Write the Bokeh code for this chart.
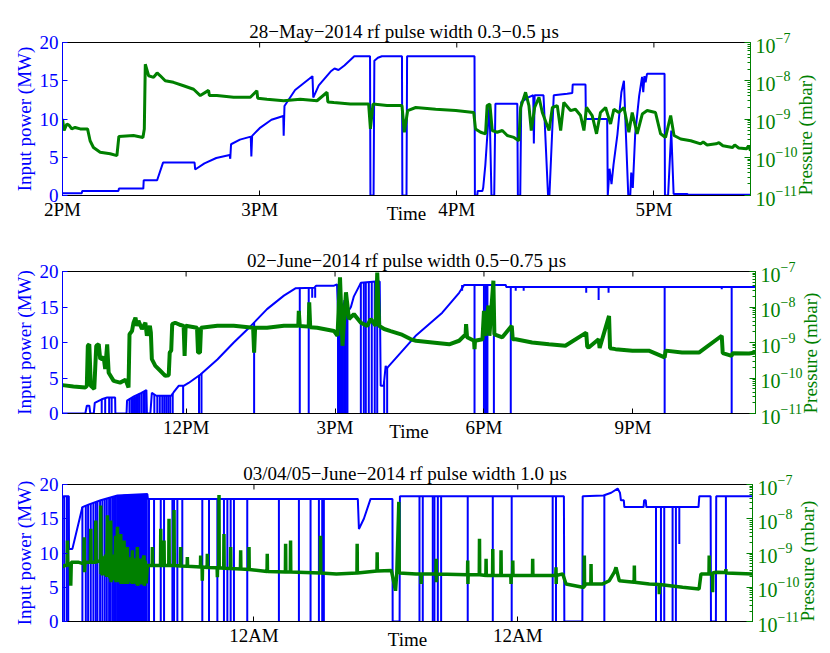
import math
from bokeh.plotting import figure
from bokeh.models import Range1d, LogAxis, LogScale, FixedTicker, Spacer
from bokeh.layouts import column
from bokeh.embed import file_html
from bokeh.resources import INLINE

BLUE = "#0000ff"
GREEN = "#008000"
FONT = "Liberation Serif"

# ---------------- titles / ticks ----------------
titles = ["28\u2212May\u22122014 rf pulse width 0.3\u22120.5  \u00b5s",
          "02\u2212June\u22122014 rf pulse width 0.5\u22120.75  \u00b5s",
          "03/04/05\u2212June\u22122014 rf pulse width 1.0  \u00b5s"]
x1_ticks = [14, 15, 16, 17]
x1_labels = ["2PM", "3PM", "4PM", "5PM"]
x2_ticks = [12, 15, 18, 21]
x2_labels = ["12PM", "3PM", "6PM", "9PM"]
x3_ticks = [24, 48]
x3_labels = ["12AM", "12AM"]
power_ticks = [0, 5, 10, 15, 20]
pressure_ticks = [1e-11, 1e-10, 1e-9, 1e-8, 1e-7]

# ---------------- panel 1 : 28 May ----------------
t1_power = [14.000, 14.098, 14.100, 14.284, 14.286, 14.410, 14.412, 14.480, 14.510, 14.670,
            14.673, 14.720, 14.780, 14.848, 14.851, 14.855, 14.900, 14.955, 14.958, 14.962,
            15.000, 15.060, 15.120, 15.122, 15.126, 15.180, 15.268, 15.272, 15.300, 15.360,
            15.380, 15.400, 15.430, 15.480, 15.560, 15.562, 15.578, 15.582, 15.600, 15.620,
            15.722, 15.724, 15.745, 15.748, 16.090, 16.092, 16.104, 16.106, 16.130, 16.134,
            16.145, 16.154, 16.166, 16.176, 16.190, 16.196, 16.307, 16.310, 16.322, 16.327,
            16.360, 16.388, 16.391, 16.395, 16.440, 16.463, 16.470, 16.492, 16.560, 16.586,
            16.588, 16.653, 16.655, 16.763, 16.766, 16.775, 16.785, 16.795, 16.815, 16.835,
            16.848, 16.858, 16.870, 16.880, 16.885, 16.893, 16.905, 16.925, 16.940, 16.946,
            16.952, 16.958, 16.965, 17.054, 17.056, 17.072, 17.088, 17.100, 17.170, 17.172,
            17.490]
p1_power = [0.3, 0.3, 0.6, 0.6, 0.9, 0.9, 2.0, 2.0, 4.3, 4.3,
            3.4, 4.2, 4.9, 5.3, 4.8, 6.7, 7.3, 7.7, 5.1, 7.8,
            8.8, 9.9, 10.4, 7.8, 11.7, 13.8, 15.6, 12.8, 14.4, 16.2,
            16.6, 16.4, 17.0, 18.2, 18.2, 0.0, 0.0, 17.6, 18.0, 18.2,
            18.2, 0.0, 0.0, 18.2, 18.2, 0.0, 0.0, 0.6, 0.6, 1.0,
            4.0, 7.5, 12.0, 0.0, 0.0, 12.0, 12.0, 0.0, 0.0, 12.2,
            12.8, 13.1, 6.8, 13.1, 13.1, 0.0, 0.0, 13.1, 13.3, 13.4,
            14.5, 14.5, 10.0, 10.0, 0.0, 3.5, 1.5, 4.0, 8.0, 13.5,
            15.0, 8.0, 0.0, 0.0, 3.0, 1.0, 8.0, 13.0, 15.5, 13.5,
            15.6, 14.8, 15.9, 15.9, 0.0, 0.0, 8.5, 0.2, 0.2, 0.1,
            0.1]
trip1_t = []
trip1_lo = []
trip1_hi = []
t1_press = [14.000, 14.008, 14.022, 14.034, 14.047, 14.064, 14.090, 14.127, 14.140, 14.157,
            14.191, 14.242, 14.276, 14.286, 14.360, 14.408, 14.415, 14.420, 14.437, 14.462,
            14.480, 14.496, 14.521, 14.563, 14.614, 14.665, 14.699, 14.741, 14.745, 14.783,
            14.868, 14.953, 14.986, 14.990, 15.037, 15.122, 15.206, 15.291, 15.342, 15.346,
            15.376, 15.460, 15.553, 15.562, 15.575, 15.646, 15.722, 15.734, 15.751, 15.792,
            15.893, 15.995, 16.086, 16.095, 16.121, 16.146, 16.154, 16.168, 16.180, 16.205,
            16.231, 16.256, 16.290, 16.315, 16.324, 16.349, 16.366, 16.378, 16.395, 16.417,
            16.434, 16.468, 16.485, 16.510, 16.527, 16.543, 16.577, 16.602, 16.628, 16.645,
            16.658, 16.687, 16.709, 16.729, 16.755, 16.780, 16.797, 16.822, 16.848, 16.873,
            16.890, 16.915, 16.941, 16.966, 17.008, 17.034, 17.059, 17.085, 17.102, 17.136,
            17.187, 17.237, 17.250, 17.270, 17.315, 17.330, 17.350, 17.399, 17.410, 17.430,
            17.470, 17.480, 17.490]
p1_press = [1.0e-9, 5.0e-10, 7.4e-10, 6.8e-10, 5.5e-10, 6.0e-10, 5.5e-10, 5.5e-10, 2.7e-10, 1.8e-10,
            1.35e-10, 1.23e-10, 1.1e-10, 3.5e-10, 3.7e-10, 3.3e-10, 5.5e-10, 2.7e-8, 1.35e-8, 1.23e-8,
            1.6e-8, 1.35e-8, 1.0e-8, 9.1e-9, 7.4e-9, 6.0e-9, 4.1e-9, 5.6e-9, 4.1e-9, 4.1e-9,
            3.7e-9, 3.7e-9, 5.5e-9, 3.5e-9, 3.3e-9, 3.0e-9, 3.3e-9, 3.0e-9, 5.0e-9, 2.8e-9,
            2.7e-9, 2.45e-9, 2.45e-9, 5.5e-10, 2.45e-9, 2.24e-9, 2.24e-9, 4.5e-10, 1.66e-9, 2.0e-9,
            1.8e-9, 1.66e-9, 1.48e-9, 5.5e-10, 4.5e-10, 4.1e-10, 2.24e-9, 2.45e-9, 5.0e-10, 4.5e-10,
            5.0e-10, 3.7e-10, 3.3e-10, 2.7e-10, 2.0e-9, 5.0e-9, 2.24e-9, 5.0e-10, 2.0e-9, 3.7e-9,
            1.48e-9, 5.0e-10, 2.0e-9, 2.24e-9, 5.0e-10, 2.7e-9, 1.66e-9, 1.8e-9, 1.23e-9, 5.0e-10,
            2.0e-9, 1.23e-9, 4.1e-10, 1.48e-9, 2.0e-9, 7.4e-10, 1.8e-9, 1.48e-9, 2.0e-9, 4.5e-10,
            1.48e-9, 4.1e-10, 1.35e-9, 1.66e-9, 1.48e-9, 4.1e-10, 3.3e-10, 1.23e-9, 3.7e-10, 3.0e-10,
            2.7e-10, 2.24e-10, 2.5e-10, 2.1e-10, 2.24e-10, 2.4e-10, 2.0e-10, 1.8e-10, 2.1e-10, 1.74e-10,
            1.66e-10, 2.0e-10, 1.48e-10]

# ---------------- panel 2 : 02 June ----------------
t2_power = [9.51, 9.97, 10.00, 10.05, 10.07, 10.14, 10.16, 10.30, 10.41, 10.57,
            10.575, 10.80, 10.81, 10.95, 11.10, 11.20, 11.21, 11.28, 11.31, 11.40,
            11.70, 11.75, 11.85, 11.95, 12.05, 12.29, 12.63, 12.96, 13.30, 13.63,
            13.97, 14.21, 14.58, 14.62, 14.98, 15.04, 15.07, 15.10, 15.14, 15.20,
            15.25, 15.32, 15.38, 15.52, 15.82, 15.90, 15.92, 15.98, 16.02, 16.04,
            16.06, 16.62, 17.16, 17.50, 17.60, 18.44, 18.45, 23.47]
p2_power = [0.0, 0.0, 1.1, 1.1, 0.0, 0.0, 1.5, 2.0, 2.25, 2.25,
            0.0, 0.0, 1.8, 2.4, 2.9, 3.3, 0.0, 0.0, 2.9, 2.5,
            2.5, 3.0, 3.9, 3.9, 4.3, 5.5, 7.6, 10.0, 12.3, 14.7,
            16.6, 17.65, 17.7, 18.0, 18.0, 18.2, 12.0, 17.0, 14.5, 16.0,
            14.2, 15.0, 16.5, 18.4, 18.6, 18.6, 3.9, 3.9, 6.7, 6.3,
            6.5, 10.9, 14.2, 17.0, 18.1, 18.1, 17.8, 17.8]
trip2_t = [10.30, 10.37, 10.45, 10.50, 10.86, 10.90, 10.93, 10.97, 11.00, 11.03,
           11.06, 11.10, 11.14, 11.17, 11.36, 11.42, 11.47, 11.52, 11.56, 11.60,
           11.64, 11.68, 11.73, 11.94, 12.26, 12.31, 13.37, 14.29, 14.47, 14.54,
           14.60, 15.06, 15.09, 15.11, 15.13, 15.16, 15.19, 15.22, 15.25, 15.52,
           15.58, 15.62, 15.68, 15.74, 15.80, 15.85, 15.99, 16.05, 17.56, 17.81,
           18.00, 18.03, 18.05, 18.07, 18.20, 18.54, 18.64, 18.80, 20.06, 20.31,
           20.51, 21.64, 22.79, 22.99]
trip2_lo = [0, 0, 0, 0, 0, 0, 0, 0, 0, 0,
            0, 0, 0, 0, 0, 0, 0, 0, 0, 0,
            0, 0, 0, 0, 0, 0, 0, 0, 0, 16.3,
            16.3, 0, 0, 0, 0, 0, 0, 0, 0, 0,
            0, 0, 0, 0, 0, 0, 0, 0, 17.3, 0,
            0, 0, 0, 0, 0, 0, 17.3, 17.3, 17.0, 16.0,
            17.0, 0, 17.5, 0]
trip2_hi = [2.0, 2.1, 2.2, 2.2, 2.0, 2.2, 2.3, 2.4, 2.6, 2.7,
            2.8, 2.9, 3.0, 3.2, 2.6, 2.5, 2.5, 2.5, 2.5, 2.5,
            2.5, 2.5, 2.8, 3.9, 5.3, 5.6, 12.8, 17.7, 17.7, 17.7,
            17.7, 17.0, 16.0, 15.0, 15.5, 15.0, 16.0, 15.0, 14.5, 18.4,
            18.5, 18.5, 18.5, 18.6, 18.6, 18.6, 4.5, 6.5, 18.1, 18.1,
            18.1, 18.1, 18.1, 18.1, 18.1, 17.8, 17.8, 17.8, 17.8, 17.8,
            17.8, 17.8, 17.8, 17.8]
t2_press = [9.51, 9.73, 9.97, 10.00, 10.02, 10.05, 10.08, 10.15, 10.19, 10.24,
            10.27, 10.34, 10.37, 10.41, 10.44, 10.54, 10.67, 10.78, 10.84, 10.86,
            10.91, 10.94, 10.98, 11.01, 11.04, 11.11, 11.18, 11.21, 11.27, 11.29,
            11.31, 11.38, 11.48, 11.58, 11.65, 11.67, 11.70, 11.72, 11.78, 11.89,
            11.95, 11.97, 11.99, 12.22, 12.24, 12.28, 12.30, 12.63, 12.96, 13.35,
            13.37, 13.39, 13.63, 13.97, 14.26, 14.27, 14.29, 14.47, 14.48, 14.50,
            14.64, 14.98, 15.05, 15.10, 15.15, 15.22, 15.28, 15.38, 15.52, 15.65,
            15.72, 15.82, 15.85, 15.89, 15.99, 16.12, 16.33, 16.53, 16.63, 16.96,
            17.30, 17.50, 17.63, 17.64, 17.66, 17.80, 17.81, 17.82, 17.97, 18.00,
            18.02, 18.09, 18.11, 18.19, 18.21, 18.37, 18.56, 18.58, 18.64, 18.97,
            19.31, 19.64, 20.06, 20.08, 20.11, 20.31, 20.33, 20.52, 20.54, 20.65,
            20.99, 21.32, 21.64, 21.66, 21.99, 22.33, 22.79, 22.81, 22.99, 23.01,
            23.34, 23.47]
p2_press = [6.3e-11, 5.8e-11, 5.4e-11, 6.0e-11, 8.1e-10, 8.9e-10, 6.0e-11, 4.9e-11, 8.1e-10, 8.9e-10,
            3.4e-10, 3.8e-10, 1.8e-10, 8.9e-10, 1.4e-10, 8.3e-11, 7.4e-11, 8.9e-11, 5.4e-11, 1.7e-9,
            2.1e-9, 3.6e-9, 5.0e-9, 2.95e-9, 4.1e-9, 2.4e-9, 3.6e-9, 1.55e-9, 2.95e-9, 1.9e-9,
            3.4e-10, 2.2e-10, 1.6e-10, 1.15e-10, 1.2e-10, 5.2e-10, 5.9e-10, 3.3e-9, 3.6e-9, 3.1e-9,
            2.95e-9, 4.2e-10, 2.95e-9, 2.6e-9, 5.2e-10, 5.2e-10, 2.6e-9, 2.95e-9, 2.95e-9, 2.6e-9,
            5.2e-10, 2.6e-9, 2.6e-9, 2.95e-9, 2.95e-9, 7.8e-9, 2.9e-9, 2.8e-9, 1.35e-8, 2.7e-9,
            2.6e-9, 2.1e-9, 1.55e-9, 6.8e-8, 8.1e-10, 2.6e-8, 4.6e-9, 6.3e-9, 3.6e-9, 2.95e-9,
            4.6e-9, 2.95e-9, 9.3e-8, 2.95e-9, 2.4e-9, 2.1e-9, 1.7e-9, 1.23e-9, 1.12e-9, 1.0e-9,
            8.9e-10, 1.12e-9, 1.7e-9, 3.3e-9, 1.4e-9, 1.12e-9, 6.5e-10, 1.12e-9, 1.23e-9, 7.8e-9,
            1.55e-9, 1.1e-8, 1.55e-9, 5.5e-8, 1.7e-9, 1.4e-9, 2.95e-9, 1.23e-9, 1.23e-9, 1.0e-9,
            8.9e-10, 8.1e-10, 1.9e-9, 7.6e-10, 7.2e-10, 1.23e-9, 7.0e-10, 5.6e-9, 6.9e-10, 6.5e-10,
            5.9e-10, 5.9e-10, 3.8e-10, 5.9e-10, 5.2e-10, 5.2e-10, 1.55e-9, 5.0e-10, 4.2e-10, 5.0e-10,
            4.9e-10, 5.2e-10]

# ---------------- panel 3 : 03/04/05 June (hours since 3 June 00:00) ----------------
t3_power = [6.58, 6.70, 7.15, 7.17, 7.48, 8.39, 9.00, 10.06, 11.58, 14.30,
            14.35, 33.45, 33.55, 34.00, 34.61, 36.60, 36.62, 37.25, 37.28, 52.20,
            52.24, 53.88, 53.91, 55.80, 56.50, 57.09, 57.30, 57.39, 57.65, 57.70,
            59.45, 59.50, 59.65, 59.70, 64.45, 64.52, 65.55, 65.58, 66.03, 66.06,
            69.36]
p3_power = [18.0, 18.3, 18.3, 10.6, 10.6, 16.7, 17.1, 17.7, 18.4, 18.6,
            17.9, 17.9, 13.5, 15.0, 17.9, 17.9, 0.0, 0.0, 18.3, 18.3,
            0.0, 0.0, 18.3, 18.4, 18.8, 19.4, 18.8, 17.7, 17.7, 16.7,
            16.7, 17.7, 17.7, 16.7, 16.7, 18.3, 18.3, 0.0, 0.0, 18.3,
            18.3]
trip3_t = [6.73, 6.97, 7.10, 8.39, 8.70, 8.91, 9.15, 9.39, 9.61, 9.76,
           10.00, 10.21, 10.42, 10.61, 10.82, 10.97, 11.15, 11.27, 11.42, 11.55,
           11.65, 11.75, 11.85, 11.95, 12.05, 12.15, 12.25, 12.35, 12.45, 12.55,
           12.65, 12.75, 12.85, 12.95, 13.05, 13.15, 13.25, 13.35, 13.45, 13.55,
           13.65, 13.75, 13.85, 13.95, 14.05, 14.15, 14.25, 14.45, 14.91, 15.52,
           15.82, 16.58, 16.73, 17.03, 17.48, 19.30, 19.91, 20.67, 21.27, 21.58,
           21.88, 22.18, 23.39, 26.27, 28.09, 29.15, 29.91, 30.21, 30.36, 39.06,
           39.36, 40.27, 40.42, 40.73, 41.03, 43.45, 45.73, 47.45, 51.18, 51.48,
           55.88, 60.58, 61.03, 61.33, 62.09, 62.39, 62.70, 66.94]
trip3_lo = [0] * 86 + [11.3, 0]
trip3_hi = [18.3, 18.3, 18.3, 16.7, 17.0, 17.0, 17.2, 17.3, 17.4, 17.5,
            17.6, 17.8, 17.9, 18.0, 18.1, 18.1, 18.2, 18.3, 18.3, 18.4,
            18.4, 18.4, 18.4, 18.4, 18.4, 18.5, 18.5, 18.5, 18.5, 18.5,
            18.5, 18.5, 18.5, 18.5, 18.5, 18.5, 18.6, 18.6, 18.6, 18.6,
            18.6, 18.6, 18.6, 18.6, 18.6, 18.6, 18.6, 17.9, 17.9, 17.9,
            17.9, 17.9, 17.9, 17.9, 17.9, 17.9, 17.9, 17.9, 17.9, 17.9,
            17.9, 17.9, 17.9, 17.9, 17.9, 17.9, 17.9, 17.9, 17.9, 18.3,
            18.3, 18.3, 18.3, 18.3, 18.3, 18.3, 18.3, 18.3, 18.3, 18.3,
            18.4, 16.7, 16.7, 16.7, 16.7, 16.7, 16.7, 18.3]
t3_press = [6.58, 6.73, 7.00, 7.03, 7.06, 7.30, 7.33, 7.38, 8.00, 8.52,
            8.55, 8.58, 8.62, 9.12, 9.15, 9.18, 9.58, 9.61, 9.64, 10.03,
            10.06, 10.09, 10.12, 10.20, 10.30, 10.40, 10.50, 10.60, 10.67, 10.72,
            10.80, 10.90, 10.97, 11.00, 11.08, 11.15, 11.25, 11.33, 11.42, 11.45,
            11.52, 11.58, 11.61, 11.70, 11.78, 11.88, 11.91, 12.00, 12.08, 12.18,
            12.21, 12.30, 12.38, 12.48, 12.51, 12.60, 12.70, 12.80, 12.88, 12.94,
            12.97, 13.06, 13.15, 13.25, 13.33, 13.39, 13.42, 13.52, 13.60, 13.70,
            13.80, 13.90, 14.00, 14.03, 14.12, 14.20, 14.30, 14.74, 14.76, 14.78,
            15.50, 15.52, 15.54, 15.80, 15.82, 15.84, 16.25, 16.27, 16.29, 16.71,
            16.73, 16.75, 17.31, 17.33, 17.35, 17.92, 17.94, 17.96, 19.13, 19.15,
            19.17, 19.28, 19.30, 19.32, 19.74, 19.76, 19.78, 20.65, 20.67, 20.69,
            20.80, 20.82, 20.84, 21.25, 21.27, 21.29, 21.86, 21.88, 21.90, 22.77,
            22.79, 22.81, 23.53, 23.55, 23.57, 25.19, 25.21, 25.23, 26.86, 26.88,
            26.90, 27.31, 27.33, 27.35, 30.04, 30.06, 30.08, 31.50, 33.37, 33.39,
            33.41, 35.19, 35.21, 35.23, 36.50, 36.88, 37.00, 37.18, 37.22, 38.76,
            39.19, 39.21, 39.23, 40.56, 40.58, 40.60, 40.62, 43.43, 43.45, 43.47,
            43.49, 44.50, 44.52, 44.54, 45.10, 45.12, 45.14, 45.71, 45.73, 45.75,
            46.46, 46.48, 46.50, 47.37, 47.39, 47.41, 47.53, 47.55, 47.57, 49.34,
            49.36, 49.38, 51.46, 51.48, 51.50, 51.52, 52.09, 52.39, 53.91, 54.04,
            54.06, 54.08, 54.21, 54.65, 54.67, 54.69, 55.73, 56.33, 56.79, 56.94,
            57.24, 58.59, 58.61, 58.63, 59.97, 60.86, 60.88, 60.90, 63.00, 64.50,
            64.67, 65.40, 65.42, 65.44, 65.71, 65.73, 65.75, 66.03, 66.92, 66.94,
            66.96, 69.36]
p3_press = [3.8e-10, 4.3e-10, 4.3e-10, 2.3e-9, 4.3e-10, 4.8e-10, 1.1e-10, 5.4e-10, 5.4e-10, 4.8e-10,
            2.9e-9, 2.75e-10, 5.4e-10, 5.4e-10, 5.1e-9, 5.4e-10, 5.4e-10, 8.9e-9, 5.4e-10, 6.0e-10,
            2.45e-8, 2.45e-10, 6.0e-10, 2.2e-10, 8.0e-10, 2.2e-10, 9.0e-10, 2.0e-10, 1.26e-8, 2.0e-10,
            8.0e-10, 1.8e-10, 8.9e-9, 1.4e-10, 8.0e-10, 1.8e-10, 9.0e-10, 1.6e-10, 3.2e-9, 1.4e-10,
            8.5e-10, 5.8e-9, 1.4e-10, 8.0e-10, 1.5e-10, 3.6e-9, 1.25e-10, 8.0e-10, 1.4e-10, 2.3e-9,
            1.25e-10, 8.0e-10, 1.4e-10, 1.5e-9, 1.25e-10, 7.5e-10, 1.4e-10, 7.5e-10, 1.3e-10, 1.2e-9,
            1.25e-10, 7.0e-10, 1.3e-10, 7.0e-10, 1.2e-10, 1.5e-9, 1.1e-10, 7.0e-10, 1.2e-10, 6.5e-10,
            1.2e-10, 6.5e-10, 8.5e-10, 1.1e-10, 6.0e-10, 1.3e-10, 4.3e-10, 4.3e-10, 1.5e-9, 4.3e-10,
            4.3e-10, 5.1e-9, 4.3e-10, 4.3e-10, 2.3e-9, 4.3e-10, 4.3e-10, 1.0e-8, 4.3e-10, 4.3e-10,
            1.8e-8, 4.3e-10, 4.2e-10, 1.5e-9, 4.2e-10, 4.1e-10, 7.6e-10, 4.1e-10, 3.9e-10, 8.5e-10,
            3.9e-10, 3.9e-10, 1.55e-10, 3.9e-10, 3.8e-10, 9.5e-10, 3.8e-10, 3.7e-10, 1.95e-10, 3.7e-10,
            3.7e-10, 4.9e-8, 3.7e-10, 3.6e-10, 3.6e-9, 3.6e-10, 3.5e-10, 1.5e-9, 3.5e-10, 3.4e-10,
            1.2e-9, 3.4e-10, 3.3e-10, 1.5e-9, 3.3e-10, 2.9e-10, 9.5e-10, 2.9e-10, 2.8e-10, 1.85e-9,
            2.8e-10, 2.8e-10, 2.3e-9, 2.8e-10, 2.6e-10, 3.2e-9, 2.6e-10, 2.45e-10, 2.6e-10, 1.85e-9,
            2.6e-10, 3.0e-10, 1.05e-9, 3.0e-10, 3.1e-10, 7.9e-11, 2.8e-10, 3.1e-8, 2.6e-10, 2.45e-10,
            2.45e-10, 1.25e-10, 2.45e-10, 2.45e-10, 6.8e-10, 1.4e-10, 2.45e-10, 2.3e-10, 6.0e-10, 1.25e-10,
            2.3e-10, 2.3e-10, 2.6e-9, 2.3e-10, 2.2e-10, 6.8e-10, 2.2e-10, 2.2e-10, 1.3e-9, 2.2e-10,
            2.2e-10, 1.2e-9, 2.2e-10, 2.2e-10, 1.25e-10, 2.2e-10, 2.2e-10, 6.0e-10, 2.2e-10, 2.2e-10,
            6.8e-10, 2.2e-10, 2.2e-10, 3.8e-10, 1.25e-10, 2.2e-10, 2.45e-10, 1.25e-10, 1.0e-10, 1.0e-10,
            8.5e-10, 1.1e-10, 1.25e-10, 1.25e-10, 4.8e-10, 1.25e-10, 1.25e-10, 1.55e-10, 2.75e-10, 3.8e-10,
            1.55e-10, 1.4e-10, 4.3e-10, 1.4e-10, 1.25e-10, 1.2e-10, 6.3e-11, 1.2e-10, 1.0e-10, 8.9e-11,
            2.45e-10, 2.45e-10, 8.5e-10, 2.45e-10, 2.45e-10, 7.1e-11, 2.6e-10, 2.75e-10, 2.7e-10, 3.4e-10,
            2.6e-10, 2.45e-10]


def make_panel(title, xr, xticks, xlabels, fw, fh, b_top, b_bot, b_right,
               tp, pp, trt, trlo, trhi, tg, pg, green_w):
    p = figure(title=title, x_range=Range1d(*xr), y_range=Range1d(0, 20),
               frame_width=fw, frame_height=fh,
               min_border_left=62, min_border_right=b_right,
               min_border_top=b_top, min_border_bottom=b_bot,
               output_backend="svg", toolbar_location=None)
    p.extra_y_ranges = {"pr": Range1d(1e-11, 1e-7)}
    p.extra_y_scales = {"pr": LogScale()}
    p.grid.visible = False
    p.outline_line_color = "black"
    p.outline_line_width = 1
    p.background_fill_color = "white"
    p.border_fill_color = "white"

    p.title.align = "center"
    p.title.text_font = FONT
    p.title.text_font_size = "19px"
    p.title.text_font_style = "normal"
    p.title.text_color = "black"
    p.title.standoff = 1

    xa = p.xaxis[0]
    xa.ticker = FixedTicker(ticks=xticks)
    xa.major_label_overrides = dict(zip(xticks, xlabels))
    xa.major_tick_in = 5
    xa.major_tick_out = 0
    xa.minor_tick_line_color = None
    xa.major_label_standoff = 3
    xa.major_label_text_font = FONT
    xa.major_label_text_font_size = "19px"
    xa.major_label_text_color = "black"
    xa.axis_label = "Time"
    xa.axis_label_text_font = FONT
    xa.axis_label_text_font_size = "19px"
    xa.axis_label_text_font_style = "normal"
    xa.axis_label_text_color = "black"
    xa.axis_label_standoff = -20
    xa.axis_line_color = "black"

    ya = p.yaxis[0]
    ya.ticker = FixedTicker(ticks=power_ticks)
    ya.major_tick_in = 5
    ya.major_tick_out = 0
    ya.minor_tick_line_color = None
    ya.major_tick_line_color = BLUE
    ya.axis_line_color = BLUE
    ya.major_label_standoff = 4
    ya.major_label_text_font = FONT
    ya.major_label_text_font_size = "19px"
    ya.major_label_text_color = BLUE
    ya.axis_label = "Input power (MW)"
    ya.axis_label_text_font = FONT
    ya.axis_label_text_font_size = "19px"
    ya.axis_label_text_font_style = "normal"
    ya.axis_label_text_color = BLUE
    ya.axis_label_standoff = 2

    minor = [m * d for d in pressure_ticks[:-1] for m in range(2, 10)]
    ra = LogAxis(y_range_name="pr", ticker=FixedTicker(ticks=pressure_ticks, minor_ticks=minor))
    ra.major_tick_in = 6
    ra.major_tick_out = 0
    ra.minor_tick_in = 3
    ra.minor_tick_out = 0
    ra.major_tick_line_color = GREEN
    ra.minor_tick_line_color = GREEN
    ra.axis_line_color = GREEN
    ra.major_label_standoff = 5
    ra.major_label_text_font = FONT
    ra.major_label_text_font_size = "20px"
    ra.major_label_text_color = GREEN
    ra.axis_label = "Pressure (mbar)"
    ra.axis_label_text_font = FONT
    ra.axis_label_text_font_size = "19px"
    ra.axis_label_text_font_style = "normal"
    ra.axis_label_text_color = GREEN
    ra.axis_label_standoff = 5
    try:
        ra.axis_label_orientation = math.pi / 2
    except Exception:
        pass
    try:
        ra.axis_label_align = "start"
    except Exception:
        pass
    p.add_layout(ra, "right")

    # tick marks along the top edge of the box (MATLAB style)
    tick_len = 5 * 20 / fh
    p.segment(x0=xticks, y0=[20] * len(xticks), x1=xticks, y1=[20 - tick_len] * len(xticks),
              line_color="black", line_width=1)

    p.line(tp, pp, line_color=BLUE, line_width=2)
    if trt:
        p.segment(x0=trt, y0=trlo, x1=trt, y1=trhi, line_color=BLUE, line_width=2)
    p.line(tg, pg, line_color=GREEN, line_width=green_w, y_range_name="pr")
    return p


p1 = make_panel(titles[0], (14.0, 17.49), x1_ticks, x1_labels, 688, 153, 25, 51, 76,
                t1_power, p1_power, trip1_t, trip1_lo, trip1_hi, t1_press, p1_press, 3)
p2 = make_panel(titles[1], (9.51, 23.47), x2_ticks, x2_labels, 693, 142, 25, 46, 71,
                t2_power, p2_power, trip2_t, trip2_lo, trip2_hi, t2_press, p2_press, 4)
p3 = make_panel(titles[2], (6.58, 69.36), x3_ticks, x3_labels, 690, 137, 25, 26, 74,
                t3_power, p3_power, trip3_t, trip3_lo, trip3_hi, t3_press, p3_press, 3.5)

layout = column(Spacer(width=10, height=17), p1, p2, p3, spacing=0)
open("out.html", "w").write(file_html(layout, INLINE))
